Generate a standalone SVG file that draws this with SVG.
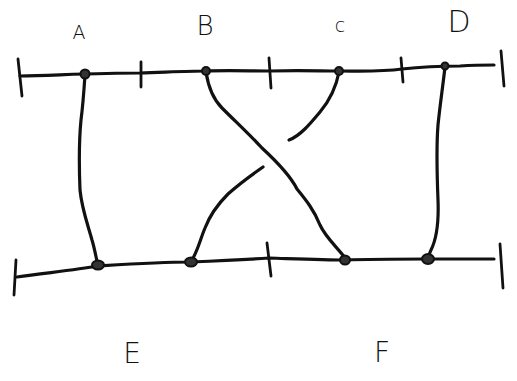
<svg xmlns="http://www.w3.org/2000/svg" width="517" height="381" viewBox="0 0 517 381">
<style>
.ln{fill:none;stroke:#111;stroke-width:3.2;stroke-linecap:round;stroke-linejoin:round}
.tk{fill:none;stroke:#111;stroke-width:2.8;stroke-linecap:round}
.dot{fill:#333;stroke:#111;stroke-width:2}
.lb{font-family:"DejaVu Sans","Liberation Sans",sans-serif;font-size:19px;fill:#111;font-weight:300;text-anchor:middle}
</style>
<rect width="517" height="381" fill="#fff"/>
<g id="rails">
<path class="ln" d="M20,76 C60,75 100,73 140,73 C170,72 190,71 205,71 C230,70 250,71 270,71 C300,70 320,71 339,71 C360,71 380,72 402,69 C420,67 440,66 460,66 C475,65 485,65 494,65"/>
<path class="ln" d="M17,277 C45,273 75,270 98,266 C130,264 160,262 190,262 C215,261 240,260 269,258 C300,259 325,260 345,260 C370,259 400,259 427,259 C450,259 475,259 494,259"/>
<path class="tk" d="M18,59 L22,96"/>
<path class="tk" d="M141,62 L141,87"/>
<path class="tk" d="M269,58 L271,88"/>
<path class="tk" d="M401,58 L403,82"/>
<path class="tk" d="M501,51 L504,86"/>
<path class="tk" d="M16,260 L14,295"/>
<path class="tk" d="M267,243 L271,276"/>
<path class="tk" d="M500,244 L503,288"/>
</g>
<g id="connectors">
<path class="ln" d="M85,75 C84,90 83,105 81,120 C79,140 79,165 80,190 C82,210 88,225 92,240 C95,250 96,258 98,265"/>
<path class="ln" d="M206,72 C208,85 212,98 222,108 C236,122 250,135 262,148 C275,160 290,175 297,189 C306,200 314,210 320,225 C326,238 338,248 345,258"/>
<path class="ln" d="M339,72 C336,88 330,100 320,112 C310,124 300,136 289,140"/>
<path class="ln" d="M263,167 C250,176 238,185 228,194 C218,204 210,215 205,228 C200,240 198,250 192,260"/>
<path class="ln" d="M445,67 C443,85 440,105 438,125 C436,150 437,175 438,200 C439,225 436,240 431,250 C429,255 428,257 427,259"/>
</g>
<g id="node-A"><circle class="dot" cx="85" cy="74" r="4.5"/><text class="lb" x="79" y="39" style="font-size:19px">A</text></g>
<g id="node-B"><circle class="dot" cx="206" cy="71" r="4"/><text class="lb" x="205" y="35" style="font-size:26px">B</text></g>
<g id="node-C"><circle class="dot" cx="339" cy="71" r="4"/><text class="lb" x="340" y="32" style="font-size:19px">c</text></g>
<g id="node-D"><circle class="dot" cx="445" cy="66" r="3.5"/><text class="lb" x="459" y="32" style="font-size:30px">D</text></g>
<g id="node-E1"><ellipse class="dot" cx="98" cy="265" rx="6" ry="4.5"/></g>
<g id="node-E2"><ellipse class="dot" cx="191" cy="262" rx="6" ry="4.5"/></g>
<g id="node-F1"><ellipse class="dot" cx="345" cy="260" rx="5" ry="4.5"/></g>
<g id="node-F2"><ellipse class="dot" cx="428" cy="259" rx="6" ry="5"/></g>
<g id="label-E"><text class="lb" x="132" y="363" style="font-size:28px">E</text></g>
<g id="label-F"><text class="lb" x="382" y="362" style="font-size:28px">F</text></g>
</svg>
